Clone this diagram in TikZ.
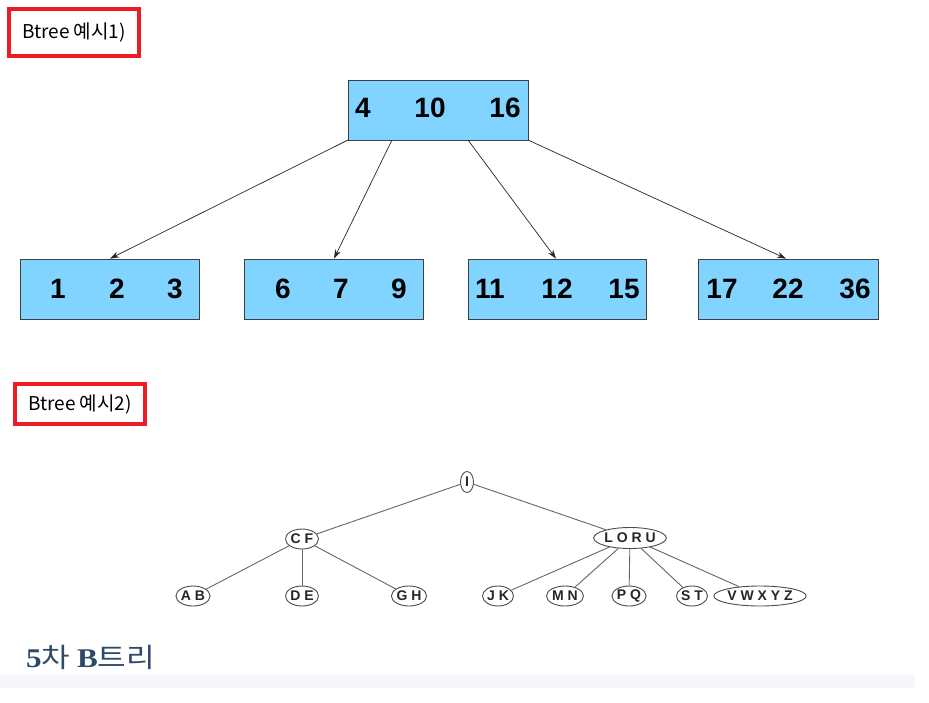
\documentclass[tikz,border=0pt]{standalone}
\usepackage{fontspec}
\usepackage{graphicx}
\setmainfont{Liberation Sans}
\newfontfamily\krfont{Noto Sans CJK KR}
\newfontfamily\capserif{Liberation Serif}
\usetikzlibrary{shapes.geometric,arrows.meta}
\definecolor{nodeblue}{HTML}{80D4FF}
\definecolor{framered}{HTML}{ED1C24}
\definecolor{captionblue}{HTML}{2E4A68}
\definecolor{bandgrey}{HTML}{F6F7FB}
\begin{document}
\begin{tikzpicture}[x=1pt,y=-1pt,
  tag/.style={draw=framered,line width=4pt,inner sep=0pt,font=\krfont\fontsize{19}{19}\selectfont},
  keybox/.style={draw=black!75,fill=nodeblue,line width=0.8pt,minimum width=180pt,minimum height=60pt,inner sep=0pt},
  num/.style={font=\bfseries\fontsize{28}{28}\selectfont,inner sep=0pt,anchor=center},
  link/.style={draw=black!85,line width=0.7pt,-{Stealth[length=9pt,width=6pt]}},
  oval/.style={ellipse,draw=black!70,line width=0.9pt,inner sep=0pt,minimum height=20pt,text=black!85,font=\fontsize{14}{14}\selectfont\bfseries},
  branch/.style={draw=black!60,line width=0.9pt}]
\useasboundingbox (0,0) rectangle (929,702);
\fill[white] (0,0) rectangle (929,702);

% grey band at the bottom
\fill[bandgrey] (0,675) rectangle (915,688);

% labels
\node[tag,minimum width=130pt,minimum height=47pt] (tag1) at (74,32.5) {Btree 예시1)};
\node[tag,minimum width=130pt,minimum height=40pt] (tag2) at (80,404) {Btree 예시2)};

% first B-tree: root and leaves
\node[keybox] (root) at (438,110) {};
\node[num] at (363,108) {4};
\node[num] at (430,108) {10};
\node[num] at (505,108) {16};

\node[keybox,minimum width=179pt] (c1) at (109.5,289) {};
\node[num] at (58,289) {1};
\node[num] at (117,289) {2};
\node[num] at (175,289) {3};

\node[keybox,minimum width=179pt] (c2) at (333.5,289) {};
\node[num] at (283,289) {6};
\node[num] at (341,289) {7};
\node[num] at (399,289) {9};

\node[keybox,minimum width=178pt] (c3) at (557,289) {};
\node[num] at (490,289) {11};
\node[num] at (557,289) {12};
\node[num] at (624,289) {15};

\node[keybox] (c4) at (788,289) {};
\node[num] at (722,289) {17};
\node[num] at (788,289) {22};
\node[num] at (855,289) {36};

\coordinate (r1) at (348,140);
\coordinate (r2) at (392,140);
\coordinate (r3) at (468,140);
\coordinate (r4) at (528,140);
\draw[link] (r1) -- (c1.north-|110,0);
\draw[link] (r2) -- (c2.north-|334,0);
\draw[link] (r3) -- (c3.north-|556,0);
\draw[link] (r4) -- (c4.north-|786,0);

% second B-tree (order 5)
\node[oval,minimum width=13pt,minimum height=21pt] (I) at (467,482) {I};
\node[oval,minimum width=33pt] (CF) at (302,539) {C F};
\node[oval,minimum width=66pt,minimum height=21pt] (LORU) at (630,538) {L O R U};
\node[oval,minimum width=33pt] (AB) at (193,596) {A B};
\node[oval,minimum width=33pt] (DE) at (302,596) {D E};
\node[oval,minimum width=35pt] (GH) at (409,596) {G H};
\node[oval,minimum width=31pt] (JK) at (498,596) {J K};
\node[oval,minimum width=37pt] (MN) at (565,596) {M N};
\node[oval,minimum width=33pt] (PQ) at (629,596) {P Q};
\node[oval,minimum width=31pt] (ST) at (692,596) {S T};
\node[oval,minimum width=84pt] (VZ) at (760,596) {V W X Y Z};

\draw[branch] (I) -- (CF);
\draw[branch] (I) -- (LORU);
\draw[branch] (CF) -- (AB);
\draw[branch] (CF) -- (DE);
\draw[branch] (CF) -- (GH);
\draw[branch] (LORU) -- (JK);
\draw[branch] (LORU) -- (MN);
\draw[branch] (LORU) -- (PQ);
\draw[branch] (LORU) -- (ST);
\draw[branch] (LORU) -- (VZ);

% caption
\node[anchor=west,inner sep=0pt,text=captionblue,font=\krfont\fontsize{27}{27}\selectfont] (cap) at (26,657) {\scalebox{1.15}[1]{{\capserif\bfseries 5}차 {\capserif\bfseries B}트리}};
\end{tikzpicture}
\end{document}
